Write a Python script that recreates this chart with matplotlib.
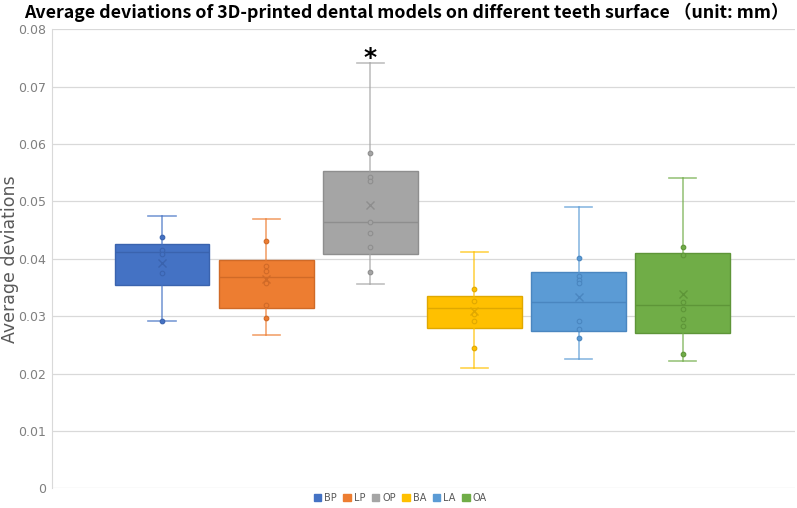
import matplotlib.pyplot as plt
from matplotlib.patches import Patch

# values (mm)
groups = ["BP", "LP", "OP", "BA", "LA", "OA"]
colors = ["#4472C4", "#ED7D31", "#A5A5A5", "#FFC000", "#5B9BD5", "#70AD47"]
dark = ["#3A63AE", "#D06A27", "#8E8E8E", "#E0A800", "#4A86C0", "#5E9538"]

whis_hi = [0.0474, 0.0469, 0.0742, 0.0411, 0.0490, 0.0540]
q3 = [0.0426, 0.0398, 0.0553, 0.0335, 0.0377, 0.0410]
median = [0.0411, 0.0368, 0.0465, 0.0315, 0.0325, 0.0319]
mean = [0.0392, 0.0365, 0.0493, 0.0309, 0.0333, 0.0338]
q1 = [0.0355, 0.0314, 0.0409, 0.0280, 0.0275, 0.0271]
whis_lo = [0.0292, 0.0268, 0.0356, 0.0209, 0.0226, 0.0221]

points = [
    [0.0438, 0.0416, 0.0409, 0.0376, 0.0292],
    [0.0431, 0.0387, 0.0379, 0.0358, 0.0319, 0.0297],
    [0.0585, 0.0543, 0.0536, 0.0464, 0.0445, 0.0421, 0.0377],
    [0.0348, 0.0327, 0.0304, 0.0291, 0.0245],
    [0.0401, 0.0370, 0.0363, 0.0358, 0.0291, 0.0278, 0.0262],
    [0.0421, 0.0406, 0.0325, 0.0312, 0.0295, 0.0282, 0.0234],
]

yticks = [0, 0.01, 0.02, 0.03, 0.04, 0.05, 0.06, 0.07, 0.08]
ytick_labels = ["0", "0.01", "0.02", "0.03", "0.04", "0.05", "0.06", "0.07", "0.08"]

fig = plt.figure(figsize=(7.97, 5.08), dpi=100)
ax = fig.add_axes([0.0653, 0.0388, 0.9317, 0.9035])

stats = []
for i, g in enumerate(groups):
    stats.append(dict(label=g, med=median[i], q1=q1[i], q3=q3[i],
                      whislo=whis_lo[i], whishi=whis_hi[i], mean=mean[i], fliers=[]))

pos = list(range(1, len(groups) + 1))
bp = ax.bxp(stats, positions=pos, widths=0.91, patch_artist=True,
            showmeans=True, showfliers=False, zorder=3)

for i in range(len(groups)):
    bp["boxes"][i].set_facecolor(colors[i])
    bp["boxes"][i].set_edgecolor(dark[i])
    bp["boxes"][i].set_linewidth(1.0)
    bp["medians"][i].set_color(dark[i])
    bp["medians"][i].set_linewidth(1.0)
    for w in bp["whiskers"][2 * i:2 * i + 2] + bp["caps"][2 * i:2 * i + 2]:
        w.set_color(colors[i])
        w.set_alpha(0.7)
        w.set_linewidth(1.2)
    for c in bp["caps"][2 * i:2 * i + 2]:
        c.set_xdata([pos[i] - 0.13, pos[i] + 0.13])
    bp["means"][i].set_marker("x")
    bp["means"][i].set_markeredgecolor(dark[i])
    bp["means"][i].set_markerfacecolor("none")
    bp["means"][i].set_markersize(6)
    bp["means"][i].set_markeredgewidth(1.0)
    bp["means"][i].set_zorder(5)
    ax.scatter([pos[i]] * len(points[i]), points[i], s=11, facecolor=colors[i],
               edgecolor=dark[i], linewidth=0.8, zorder=4)

# significance mark above OP
ax.text(3, whis_hi[2] - 0.0013, "*", ha="center", va="bottom", fontsize=18,
        fontweight="bold", color="black")

ax.set_xlim(-0.056, 7.075)
ax.set_ylim(0, 0.08)
ax.set_xticks([])
ax.set_yticks(yticks)
ax.set_yticklabels(ytick_labels)
ax.tick_params(axis="y", length=0, pad=4, labelsize=9, labelcolor="#7F7F7F")
ax.grid(axis="y", color="#D9D9D9", linewidth=0.9, zorder=0)
ax.set_axisbelow(True)
for s in ["top", "right", "bottom"]:
    ax.spines[s].set_visible(False)
ax.spines["left"].set_color("#D9D9D9")

ax.set_ylabel("Average deviations", fontsize=12.5, color="#595959")
ax.yaxis.set_label_coords(-0.044, 0.5)

fig.suptitle("Average deviations of 3D-printed dental models on different teeth surface （unit: mm）",
             x=0.51, y=0.995, fontsize=12.8, fontweight="bold",
             family=["Noto Sans CJK SC", "DejaVu Sans"])

handles = [Patch(facecolor=colors[i], edgecolor=colors[i], label=groups[i]) for i in range(len(groups))]
fig.legend(handles=handles, loc="lower center", bbox_to_anchor=(0.502, -0.008), ncol=6,
           frameon=False, fontsize=7, handlelength=0.75, handleheight=0.75,
           handletextpad=0.3, columnspacing=0.7, labelcolor="#595959")

fig.savefig("out.png", dpi=100)
